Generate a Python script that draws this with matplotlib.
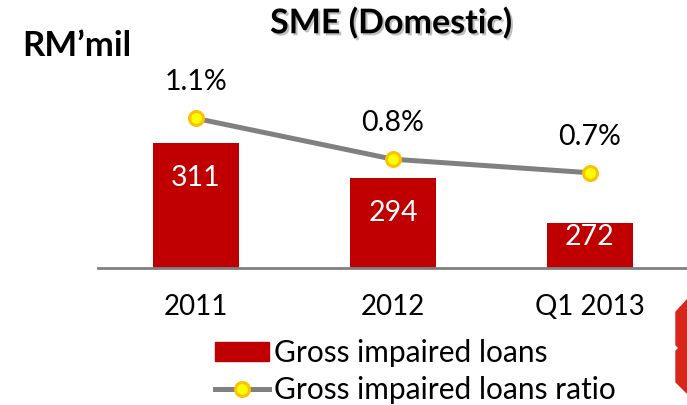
import matplotlib
matplotlib.use("Agg")
import matplotlib.pyplot as plt
import matplotlib.patheffects as pe
from matplotlib.patches import Polygon, Patch
from matplotlib.lines import Line2D

plt.rcParams['font.family'] = ['Lato', 'DejaVu Sans']

periodos = ["2011", "2012", "Q1 2013"]
prestamos = [311, 294, 272]
ratio = [1.1, 0.8, 0.7]
etiquetas_ratio = ["1.1%", "0.8%", "0.7%"]

ROJO = "#C00000"
GRIS = "#808080"

W, H = 687, 405
fig = plt.figure(figsize=(W / 100, H / 100), dpi=100)
ax = fig.add_axes([97.5 / W, (H - 268) / H, 591 / W, 200 / H])
ax2 = ax.twinx()

x = list(range(len(periodos)))
barras = ax.bar(x, prestamos, width=0.44, color=ROJO, zorder=2)
ax.set_xlim(-0.5, len(periodos) - 0.5)
ax.set_ylim(250, 250 + 200 / 2.05)
ax2.set_ylim(0, 200 / 136)

# etiquetas dentro de las barras
desplaz = [-35, -35, -14]
for xi, v, d in zip(x, prestamos, desplaz):
    ax.annotate(str(v), (xi, v), xytext=(0, d * 0.72), textcoords="offset points",
                ha="center", va="center", color="white", fontsize=20.5)

ax2.plot(x, ratio, color=GRIS, lw=3.6, marker="o", markersize=10,
         markerfacecolor="#FFFF00", markeredgecolor="#FFC000", markeredgewidth=2.2,
         zorder=3)
for xi, v, t in zip(x, ratio, etiquetas_ratio):
    ax2.annotate(t, (xi, v), xytext=(0, 36 * 0.72), textcoords="offset points",
                 ha="center", va="center", color="black", fontsize=20.5)

for a in (ax, ax2):
    for s in ("top", "right", "left"):
        a.spines[s].set_visible(False)
    a.set_yticks([])
ax2.spines["bottom"].set_visible(False)
ax.spines["bottom"].set_color(GRIS)
ax.spines["bottom"].set_linewidth(2)
ax.set_xticks(x)
ax.set_xticklabels(periodos, fontsize=20)
ax.tick_params(axis="x", length=0, pad=19)

fig.text(391 / W, 1 - 23 / H, "SME (Domestic)", ha="center", va="center",
         fontsize=24.5, fontweight="bold",
         path_effects=[pe.withSimplePatchShadow(offset=(1.5, -1.5), shadow_rgbFace="gray", alpha=0.5)])
fig.text(22 / W, 1 - 46 / H, "RM\u2019mil", ha="left", va="center",
         fontsize=25, fontweight="bold")

handles = [Patch(color=ROJO),
           Line2D([], [], color=GRIS, lw=3.6, marker="o", markersize=10,
                  markerfacecolor="#FFFF00", markeredgecolor="#FFC000", markeredgewidth=2.2)]
fig.legend(handles, ["Gross impaired loans", "Gross impaired loans ratio"],
           loc="upper left", bbox_to_anchor=(215 / W, 1 - 339 / H), frameon=False,
           fontsize=21.5, handlelength=1.8, handleheight=0.58, handletextpad=0.17,
           labelspacing=0.3, borderpad=0, borderaxespad=0)

# trozo de logo rojo en el borde derecho
pts = [(687, 300), (676, 312), (676, 345), (679, 348), (676, 351), (676, 382), (687, 393)]
fig.patches.append(Polygon([(px / W, 1 - py / H) for px, py in pts], closed=True,
                           transform=fig.transFigure, color="#D9261C"))

fig.savefig("out.png", dpi=100)
